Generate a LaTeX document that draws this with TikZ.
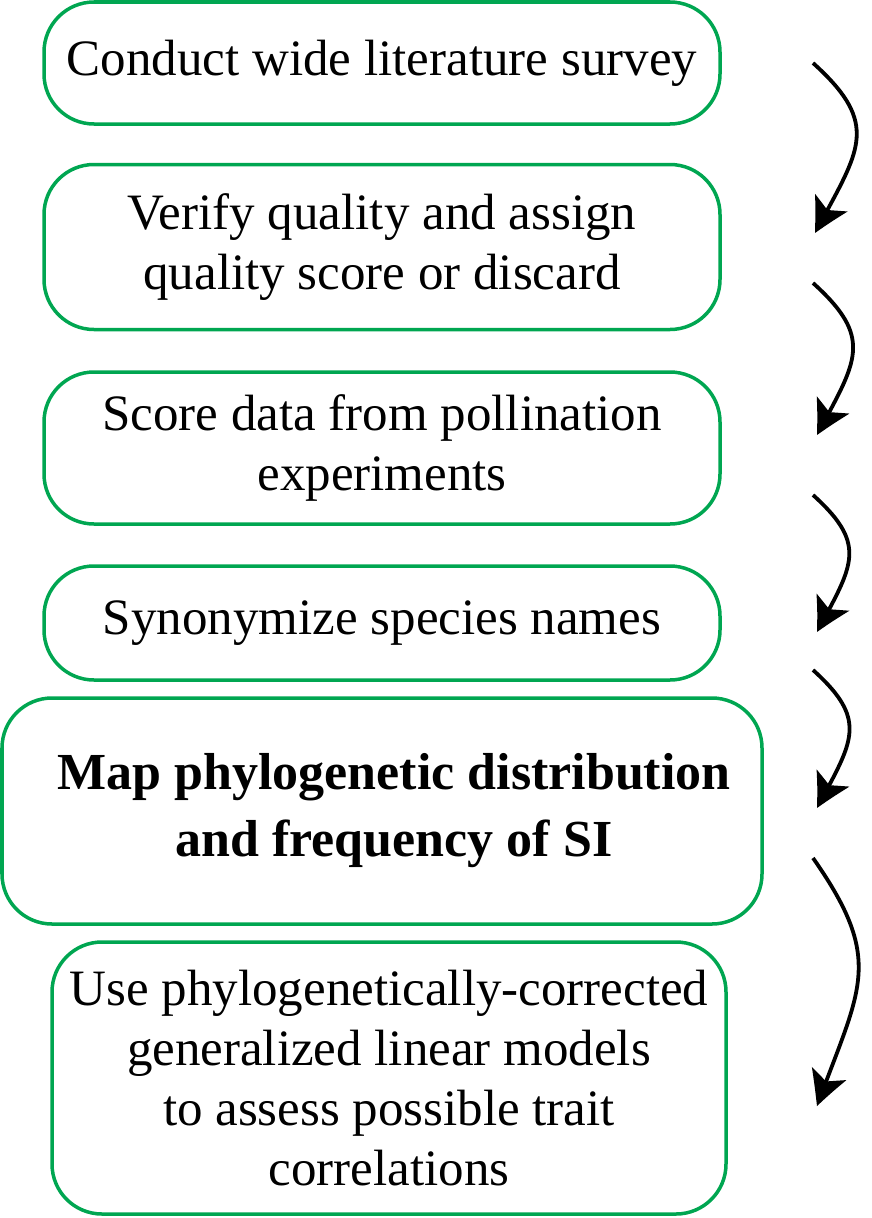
\documentclass[tikz,border=0pt]{standalone}
\usepackage{fontspec}
\setmainfont{Liberation Serif}
\usetikzlibrary{arrows.meta,bending}
\definecolor{boxgreen}{RGB}{0,166,81}
\begin{document}
\begin{tikzpicture}[x=1pt,y=-1pt,
  stepbox/.style={draw=boxgreen, line width=3.5pt, rounded corners=50pt,
    align=center, inner sep=0pt, font=\fontsize{51}{60}\selectfont},
  flow/.style={line width=3.8pt, -{Stealth[length=36pt,width=36pt,inset=9pt,bend]}}]
\useasboundingbox (0,0) rectangle (871,1218);
\node[stepbox, minimum width=676pt, minimum height=122pt] (s1) at (382,63)
  {Conduct wide literature survey};
\node[stepbox, minimum width=676pt, minimum height=165pt] (s2) at (382,247)
  {Verify quality and assign\\quality score or discard};
\node[stepbox, minimum width=676pt, minimum height=152pt] (s3) at (382,448)
  {Score data from pollination\\experiments};
\node[stepbox, minimum width=676pt, minimum height=114pt] (s4) at (382,623)
  {Synonymize species names};
\node[stepbox, minimum width=760pt, minimum height=226pt] (s5) at (382,811) {};
\node[font=\fontsize{52}{67}\selectfont\bfseries, align=center, inner sep=0pt]
  (t5) at (394,811) {Map phylogenetic distribution\\and frequency of SI};
\node[stepbox, minimum width=674pt, minimum height=272pt] (s6) at (389,1078)
  {Use phylogenetically-corrected\\generalized linear models\\to assess possible trait\\correlations};
% arrow end points
\coordinate (a1s) at (813,63);  \coordinate (a1e) at (815,233);
\coordinate (a2s) at (813,283); \coordinate (a2e) at (817,435);
\coordinate (a3s) at (813,495); \coordinate (a3e) at (817,632);
\coordinate (a4s) at (813,670); \coordinate (a4e) at (817,808);
\coordinate (a5s) at (813,858); \coordinate (a5e) at (817,1106);
\draw[flow] (a1s) to[out=-42,in=62,looseness=1.4] (a1e);
\draw[flow] (a2s) to[out=-42,in=62,looseness=1.4] (a2e);
\draw[flow] (a3s) to[out=-42,in=62,looseness=1.4] (a3e);
\draw[flow] (a4s) to[out=-42,in=62,looseness=1.4] (a4e);
\draw[flow] (a5s) to[out=-55,in=70,looseness=1.3] (a5e);
\end{tikzpicture}
\end{document}
